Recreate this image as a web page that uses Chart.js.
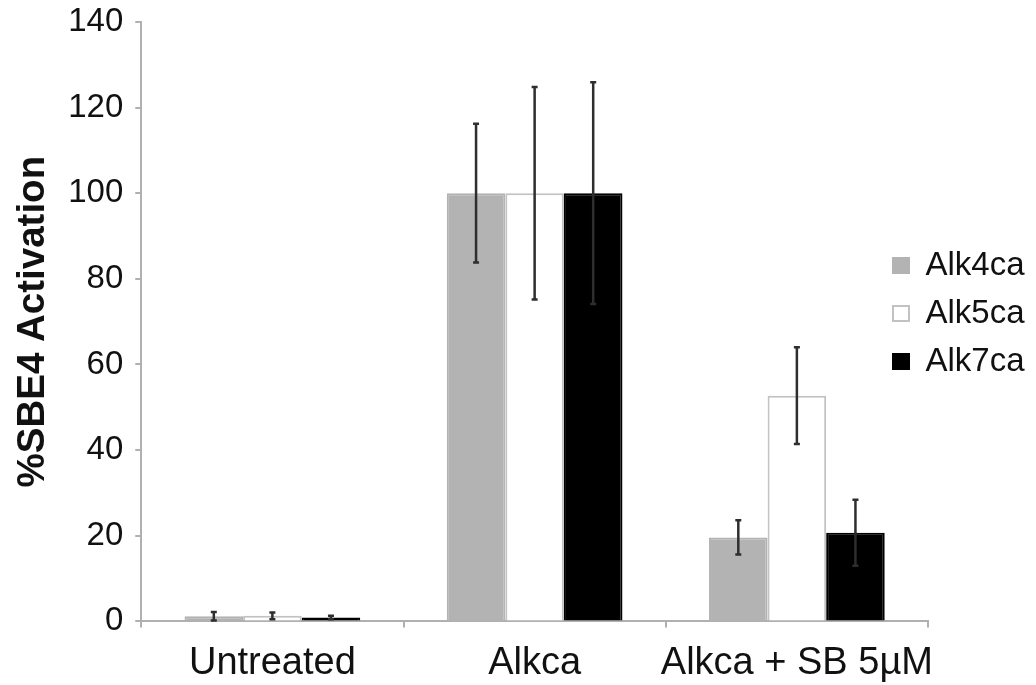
<!DOCTYPE html>
<html>
<head>
<meta charset="utf-8">
<script src="https://cdn.jsdelivr.net/npm/chart.js@4.4.1/dist/chart.umd.min.js"></script>
<style>
  body { margin: 0; background: #fff; }
</style>
</head>
<body>
<canvas id="barChart" width="1036" height="685"></canvas>
<script>
const groups = ['Untreated', 'Alkca', 'Alkca + SB 5\u00b5M'];
const seriesNames = ['Alk4ca', 'Alk5ca', 'Alk7ca'];
const alk4 = [1.2, 100, 19.6];
const alk5 = [1.3, 100, 52.7];
const alk7 = [0.9, 100, 20.7];
const alk4Err = [1.0, 16.2, 4.0];
const alk5Err = [0.8, 24.8, 11.3];
const alk7Err = [0.4, 25.9, 7.7];
const yTicks = [0, 20, 40, 60, 80, 100, 120, 140];

// error bars drawn on top of the bars
const errBars = {
  id: 'errBars',
  afterDatasetsDraw(chart) {
    const ctx = chart.ctx;
    const ys = chart.scales.y;
    ctx.save();
    ctx.strokeStyle = '#2e2e2e';
    ctx.lineWidth = 2.5;
    chart.data.datasets.forEach((ds, i) => {
      const meta = chart.getDatasetMeta(i);
      meta.data.forEach((bar, j) => {
        const v = ds.data[j], e = ds.err[j];
        const top = ys.getPixelForValue(v + e);
        const bot = ys.getPixelForValue(v - e);
        ctx.beginPath();
        ctx.moveTo(bar.x, top); ctx.lineTo(bar.x, bot);
        ctx.moveTo(bar.x - 3, top); ctx.lineTo(bar.x + 3, top);
        ctx.moveTo(bar.x - 3, bot); ctx.lineTo(bar.x + 3, bot);
        ctx.stroke();
      });
    });
    ctx.restore();
  }
};

// legend sits partly over the plot's right end, like the original
const legendShift = {
  id: 'legendShift',
  afterLayout(chart) {
    const lg = chart.legend;
    lg.left -= 50;
    lg.top -= 36; lg.bottom -= 36;
  }
};

function mkSet(label, data, err, fill, border) {
  return {
    label: label,
    data: data,
    err: err,
    backgroundColor: fill,
    borderColor: border,
    borderWidth: 2,
    barPercentage: 1,
    categoryPercentage: 0.67
  };
}

const ctx = document.getElementById('barChart').getContext('2d');
new Chart(ctx, {
  type: 'bar',
  data: {
    labels: groups,
    datasets: [
      mkSet(seriesNames[0], alk4, alk4Err, '#b3b3b3', '#b3b3b3'),
      mkSet(seriesNames[1], alk5, alk5Err, '#ffffff', '#c2c2c2'),
      mkSet(seriesNames[2], alk7, alk7Err, '#000000', '#000000')
    ]
  },
  options: {
    responsive: false,
    animation: false,
    layout: { padding: { top: 0, right: 0, left: 4, bottom: -14 } },
    scales: {
      x: {
        grid: { drawOnChartArea: false, color: '#b0b0b0', tickLength: 6, lineWidth: 2 },
        border: { color: '#b0b0b0', width: 2 },
        ticks: {
          color: '#111', font: { family: 'Liberation Sans', size: 38 }, padding: 13,
          maxRotation: 0, minRotation: 0, autoSkip: false
        }
      },
      y: {
        min: 0,
        max: 140,
        afterBuildTicks(axis) { axis.ticks = yTicks.map(v => ({ value: v })); },
        grid: { drawOnChartArea: false, color: '#b0b0b0', tickLength: 6, lineWidth: 2 },
        border: { color: '#b0b0b0', width: 2 },
        ticks: { color: '#111', font: { family: 'Liberation Sans', size: 33, lineHeight: 0.6 }, padding: 12 },
        title: {
          display: true,
          text: '%SBE4 Activation',
          color: '#111',
          font: { family: 'Liberation Sans', size: 38.5, weight: 'bold' },
          padding: { top: 6, bottom: 0 }
        }
      }
    },
    plugins: {
      legend: {
        position: 'right',
        maxWidth: 108,
        labels: {
          color: '#111',
          boxWidth: 16,
          boxHeight: 15,
          padding: 15,
          font: { family: 'Liberation Sans', size: 33 }
        }
      },
      tooltip: { enabled: false }
    }
  },
  plugins: [errBars, legendShift]
});
</script>
</body>
</html>
